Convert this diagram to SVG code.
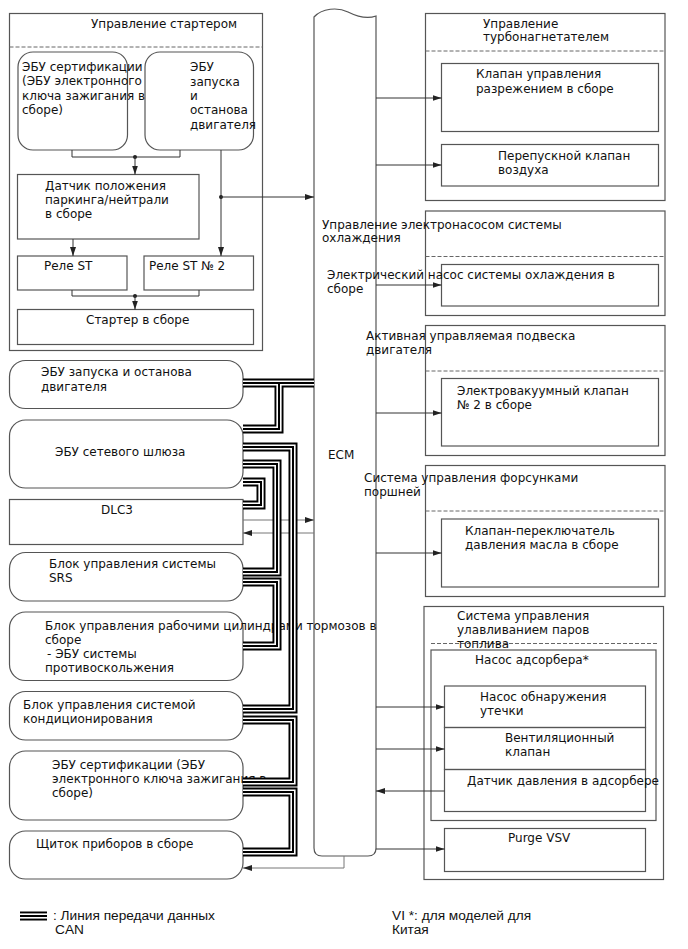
<svg xmlns="http://www.w3.org/2000/svg" width="688" height="949" viewBox="0 0 688 949">
<defs>
<style>
.t{font-family:"DejaVu Sans","Noto Sans",sans-serif;font-size:12px;fill:#111}
.lg{font-family:"Liberation Sans",sans-serif;font-size:13.7px;fill:#111}
.box{fill:none;stroke:#555;stroke-width:1.2}
.dash{fill:none;stroke:#666;stroke-width:1;stroke-dasharray:4 2}
.ln{fill:none;stroke:#333;stroke-width:1}
.gl{fill:none;stroke:#777;stroke-width:1}
.c1{fill:none;stroke:#000;stroke-width:9}
.c2{fill:none;stroke:#fff;stroke-width:5.2}
.c3{fill:none;stroke:#000;stroke-width:2}
</style>
<marker id="ah" viewBox="0 0 9 6" refX="9" refY="3" markerWidth="9" markerHeight="6" markerUnits="userSpaceOnUse" orient="auto">
<path d="M0,0 L9,3 L0,6 z" fill="#222"/>
</marker>
<path id="ca" d="M243,383 H314"/>
<path id="cb" d="M279,383 V429 H243"/>
<path id="cc" d="M243,447 H293 V709 H243"/>
<path id="cd" d="M243,464 H277 V572 H243"/>
<path id="ce" d="M243,482 H261 V505 H243"/>
<path id="cg" d="M243,582 H277 V646 H243"/>
<path id="ci" d="M243,720 H293 V782 H243"/>
<path id="cj" d="M243,792 H293 V852 H243"/>
<path id="cl" d="M20,916 H47"/>
</defs>
<rect width="688" height="949" fill="#fff"/>

<g id="ecm">
<path class="box" d="M314,17 C322,8 338,7 348,12 C358,17 368,19 376,16 V848 Q376,856 368,856 H322 Q314,856 314,848 Z"/>
<text class="t" x="328" y="459">ECM</text>
</g>

<g id="starter-control">
<rect class="box" x="9.5" y="13.5" width="253" height="337"/>
<text class="t" x="91" y="28">Управление стартером</text>
<line class="dash" x1="9.5" y1="47" x2="262.5" y2="47"/>
</g>
<g id="cert-ecu-1">
<rect class="box" x="18" y="52" width="109.5" height="98" rx="15"/>
<text class="t" x="22" y="71">ЭБУ сертификации</text>
<text class="t" x="22" y="85">(ЭБУ электронного</text>
<text class="t" x="22" y="99.5">ключа зажигания в</text>
<text class="t" x="22" y="114">сборе)</text>
</g>
<g id="ss-ecu-1">
<rect class="box" x="145" y="52" width="108.5" height="98" rx="15"/>
<text class="t" x="190" y="71">ЭБУ</text>
<text class="t" x="190" y="85.5">запуска</text>
<text class="t" x="190" y="100">и</text>
<text class="t" x="190" y="114">останова</text>
<text class="t" x="190" y="128.5">двигателя</text>
</g>
<g id="pn-sensor">
<rect class="box" x="17.5" y="174.5" width="181.5" height="64.5"/>
<text class="t" x="45" y="190">Датчик положения</text>
<text class="t" x="45" y="204">паркинга/нейтрали</text>
<text class="t" x="45" y="218">в сборе</text>
</g>
<g id="st-relay">
<rect class="box" x="17.5" y="256" width="109.5" height="34"/>
<text class="t" x="44" y="270">Реле ST</text>
</g>
<g id="st-relay-2">
<rect class="box" x="144" y="256" width="109.5" height="34"/>
<text class="t" x="149" y="270">Реле ST № 2</text>
</g>
<g id="starter">
<rect class="box" x="17.5" y="309.5" width="236" height="35"/>
<text class="t" x="86" y="324">Стартер в сборе</text>
</g>

<g id="turbo-control">
<rect class="box" x="425.5" y="13.5" width="239.5" height="187"/>
<line class="dash" x1="425.5" y1="51" x2="665" y2="51"/>
<text class="t" x="483" y="28">Управление</text>
<text class="t" x="483" y="41">турбонагнетателем</text>
</g>
<g id="vacuum-valve">
<rect class="box" x="441.5" y="63.5" width="217" height="68"/>
<text class="t" x="476" y="78">Клапан управления</text>
<text class="t" x="476" y="93">разрежением в сборе</text>
</g>
<g id="bypass-valve">
<rect class="box" x="441.5" y="144.5" width="217" height="41.5"/>
<text class="t" x="498" y="160">Перепускной клапан</text>
<text class="t" x="498" y="174">воздуха</text>
</g>

<g id="cooling-control">
<rect class="box" x="425.5" y="211" width="239.5" height="104.5"/>
<line class="dash" x1="425.5" y1="256.5" x2="665" y2="256.5"/>
<text class="t" x="322" y="229">Управление электронасосом системы</text>
<text class="t" x="322" y="242">охлаждения</text>
</g>
<g id="water-pump">
<rect class="box" x="441.5" y="264.5" width="217" height="41.5"/>
<text class="t" x="327" y="279">Электрический насос системы охлаждения в</text>
<text class="t" x="327" y="293">сборе</text>
</g>

<g id="mount-control">
<rect class="box" x="425.5" y="325.5" width="239.5" height="130"/>
<line class="dash" x1="425.5" y1="371" x2="665" y2="371"/>
<text class="t" x="366" y="340">Активная управляемая подвеска</text>
<text class="t" x="366" y="354">двигателя</text>
</g>
<g id="vsv-2">
<rect class="box" x="441.5" y="378.5" width="217" height="67.5"/>
<text class="t" x="457" y="395">Электровакуумный клапан</text>
<text class="t" x="457" y="409">№ 2 в сборе</text>
</g>

<g id="jet-control">
<rect class="box" x="425.5" y="465.5" width="239.5" height="131"/>
<line class="dash" x1="425.5" y1="511" x2="665" y2="511"/>
<text class="t" x="364" y="482">Система управления форсунками</text>
<text class="t" x="364" y="496">поршней</text>
</g>
<g id="oil-valve">
<rect class="box" x="441.5" y="519" width="217" height="68"/>
<text class="t" x="465" y="535">Клапан-переключатель</text>
<text class="t" x="465" y="549">давления масла в сборе</text>
</g>

<g id="evap-control">
<rect class="box" x="424" y="606.5" width="239.5" height="273"/>
<line class="dash" x1="431" y1="643.5" x2="658" y2="643.5"/>
<text class="t" x="457" y="620">Система управления</text>
<text class="t" x="457" y="634">улавливанием паров</text>
<text class="t" x="457" y="648">топлива</text>
</g>
<g id="canister-pump">
<rect class="box" x="431" y="650" width="225" height="170.5"/>
<text class="t" x="475" y="664">Насос адсорбера*</text>
</g>
<g id="leak-pump">
<rect class="box" x="444.5" y="686" width="201" height="41.5"/>
<text class="t" x="480" y="701">Насос обнаружения</text>
<text class="t" x="480" y="715">утечки</text>
</g>
<g id="vent-valve">
<rect class="box" x="444.5" y="727.5" width="201" height="42"/>
<text class="t" x="505" y="742">Вентиляционный</text>
<text class="t" x="505" y="756">клапан</text>
</g>
<g id="pressure-sensor">
<rect class="box" x="444.5" y="769.5" width="201" height="42"/>
<text class="t" x="467" y="785">Датчик давления в адсорбере</text>
</g>
<g id="purge-vsv">
<rect class="box" x="444.5" y="828.5" width="201" height="43"/>
<text class="t" x="508" y="842">Purge VSV</text>
</g>

<g id="ss-ecu">
<rect class="box" x="9.5" y="360.5" width="233.5" height="48" rx="16"/>
<text class="t" x="41" y="376">ЭБУ запуска и останова</text>
<text class="t" x="41" y="391">двигателя</text>
</g>
<g id="gateway">
<rect class="box" x="9.5" y="420" width="233.5" height="68" rx="16"/>
<text class="t" x="55" y="456">ЭБУ сетевого шлюза</text>
</g>
<g id="dlc3">
<rect class="box" x="9.5" y="499.5" width="233.5" height="45"/>
<text class="t" x="101" y="514">DLC3</text>
</g>
<g id="srs">
<rect class="box" x="9.5" y="552.5" width="233.5" height="48.5" rx="16"/>
<text class="t" x="49" y="568">Блок управления системы</text>
<text class="t" x="49" y="582">SRS</text>
</g>
<g id="brake">
<rect class="box" x="9.5" y="612" width="233.5" height="68.5" rx="16"/>
<text class="t" x="45" y="630">Блок управления рабочими цилиндрами тормозов в</text>
<text class="t" x="45" y="644">сборе</text>
<text class="t" x="47" y="658">- ЭБУ системы</text>
<text class="t" x="45" y="672">противоскольжения</text>
</g>
<g id="aircon">
<rect class="box" x="9.5" y="691.5" width="233.5" height="48.5" rx="16"/>
<text class="t" x="23" y="709">Блок управления системой</text>
<text class="t" x="23" y="723">кондиционирования</text>
</g>
<g id="cert-ecu">
<rect class="box" x="9.5" y="751" width="233.5" height="69" rx="16"/>
<text class="t" x="52" y="769">ЭБУ сертификации (ЭБУ</text>
<text class="t" x="52" y="783">электронного ключа зажигания в</text>
<text class="t" x="52" y="797">сборе)</text>
</g>
<g id="meter">
<rect class="box" x="9.5" y="831" width="233.5" height="48" rx="16"/>
<text class="t" x="36" y="848">Щиток приборов в сборе</text>
</g>

<g id="connectors">
<path class="ln" d="M72,150 V157 H180 V150"/>
<circle cx="135" cy="157" r="2" fill="#222"/>
<path class="ln" d="M135,157 V174.5" marker-end="url(#ah)"/>
<path class="ln" d="M221,150 V256" marker-end="url(#ah)"/>
<circle cx="221" cy="197" r="2" fill="#222"/>
<path class="ln" d="M221,197 H314" marker-end="url(#ah)"/>
<path class="ln" d="M73,239 V256" marker-end="url(#ah)"/>
<path class="ln" d="M72,290 V296 H199 V290"/>
<circle cx="135" cy="296" r="2" fill="#222"/>
<path class="ln" d="M135,296 V309.5" marker-end="url(#ah)"/>
<path class="ln" d="M376,98 H441.5" marker-end="url(#ah)"/>
<path class="ln" d="M376,165 H441.5" marker-end="url(#ah)"/>
<path class="ln" d="M376,285 H441.5" marker-end="url(#ah)"/>
<path class="ln" d="M376,413 H441.5" marker-end="url(#ah)"/>
<path class="ln" d="M376,553 H441.5" marker-end="url(#ah)"/>
<path class="ln" d="M376,707 H444.5" marker-end="url(#ah)"/>
<path class="ln" d="M376,749 H444.5" marker-end="url(#ah)"/>
<path class="ln" d="M444.5,791 H376" marker-end="url(#ah)"/>
<path class="ln" d="M376,849 H444.5" marker-end="url(#ah)"/>
<path class="gl" d="M243,520 H314" marker-end="url(#ah)"/>
<path class="gl" d="M314,533 H243" marker-end="url(#ah)"/>
<path class="gl" d="M344,856 V868 H243" marker-end="url(#ah)"/>
<g id="can-lines">
<use href="#ca" class="c1"/><use href="#cb" class="c1"/><use href="#cc" class="c1"/><use href="#cd" class="c1"/><use href="#ce" class="c1"/><use href="#cg" class="c1"/><use href="#ci" class="c1"/><use href="#cj" class="c1"/>
<use href="#ca" class="c2"/><use href="#cb" class="c2"/><use href="#cc" class="c2"/><use href="#cd" class="c2"/><use href="#ce" class="c2"/><use href="#cg" class="c2"/><use href="#ci" class="c2"/><use href="#cj" class="c2"/>
<use href="#ca" class="c3"/><use href="#cb" class="c3"/><use href="#cc" class="c3"/><use href="#cd" class="c3"/><use href="#ce" class="c3"/><use href="#cg" class="c3"/><use href="#ci" class="c3"/><use href="#cj" class="c3"/>
</g>
</g>

<g id="legend">
<use href="#cl" class="c1"/><use href="#cl" class="c2"/><use href="#cl" class="c3"/>
<text class="lg" x="53" y="920">: Линия передачи данных</text>
<text class="lg" x="55" y="934">CAN</text>
<text class="lg" x="392" y="920">VI *: для моделей для</text>
<text class="lg" x="392" y="934">Китая</text>
</g>
</svg>
